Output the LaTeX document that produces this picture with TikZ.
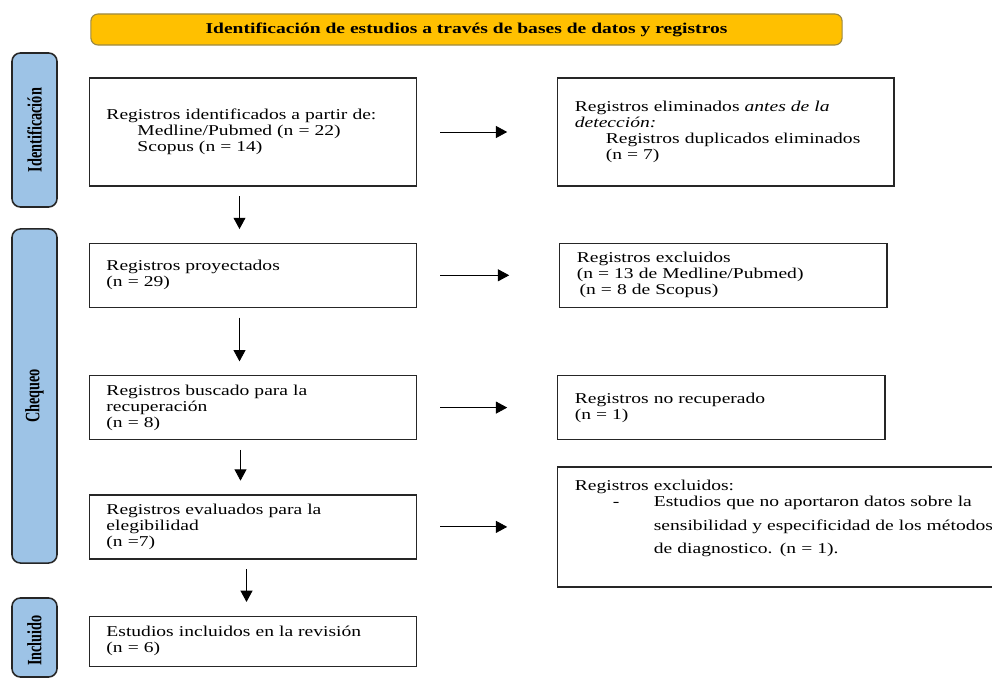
\documentclass[tikz,border=0pt]{standalone}
\usepackage{fontspec}
\setmainfont[FakeStretch=1.3]{Liberation Serif}
\newfontfamily\sidefont[FakeStretch=0.7]{Liberation Serif}
\usetikzlibrary{positioning,arrows.meta,calc}

\begin{document}
\begin{tikzpicture}[x=0.025cm,y=-0.025cm,
  every node/.style={font=\fontsize{10.7}{11.4}\selectfont},
  head/.style={rectangle,draw=yellow!45!black!80!orange,line width=0.8pt,rounded corners=5pt,fill={rgb,255:red,255;green,192;blue,0},minimum width=18.775cm,minimum height=0.775cm,font=\fontsize{10.7}{11.4}\selectfont\bfseries},
  side/.style={rectangle,draw=black!85,line width=1.1pt,rounded corners=6pt,fill={rgb,255:red,157;green,195;blue,230},minimum width=1.125cm},
  sidetxt/.style={rotate=90,font=\sidefont\fontsize{14.5}{14.5}\selectfont\bfseries},
  box/.style={rectangle,draw=black!85,line width=0.9pt,align=left,inner xsep=0.425cm,text width=7.325cm},
  arr/.style={-{Triangle[length=8pt,width=8.5pt]},line width=0.6pt},
  harr/.style={arr,shorten <=0.575cm,shorten >=1.25cm},
  varr/.style={arr,shorten <=0.24cm,shorten >=0.34cm}
]
\clip (0,0) rectangle (992,682);

% encabezado y fases
\node[head] (title) at (466.5,29.5) {Identificación de estudios a través de bases de datos y registros};
\node[side,minimum height=3.85cm] (fid) at (34.5,130) {};
\node[side,minimum height=8.35cm] (fchq) at (34.5,396) {};
\node[side,minimum height=1.975cm] (finc) at (34.5,637.5) {};
\node[sidetxt] at (fid) {Identificación};
\node[sidetxt] at (fchq) {Chequeo};
\node[sidetxt] at ($(finc)+(0,3)$) {Incluido};

% columna izquierda
\node[box,minimum height=2.7cm] (B1) at (253,132) {Registros identificados a partir de:\\
  \hspace*{0.775cm}Medline/Pubmed (n = 22)\\
  \hspace*{0.775cm}Scopus (n = 14)};
\node[box,minimum height=1.6cm,below=1.4cm of B1] (B2) {Registros proyectados\\(n = 29)};
\node[box,minimum height=1.6cm,below=1.675cm of B2] (B3) {Registros buscado para la\\recuperación\\(n = 8)};
\node[box,minimum height=1.6cm,below=1.35cm of B3] (B4) {Registros evaluados para la\\elegibilidad\\(n =7)};
\node[box,minimum height=1.25cm,below=1.4cm of B4] (B5) {Estudios incluidos en la revisión\\(n = 6)};

% columna derecha
\node[box,minimum height=2.7cm,text width=7.55cm,right=3.5cm of B1] (R1) {Registros eliminados \textit{antes de la}\\
  \textit{detección:}\\
  \hspace*{0.775cm}Registros duplicados eliminados\\
  \hspace*{0.775cm}(n = 7)};
\node[box,minimum height=1.6cm,right=3.55cm of B2] (R2) {Registros excluidos\\(n = 13 de Medline/Pubmed)\\\hspace*{2pt}(n = 8 de Scopus)};
\node[box,minimum height=1.6cm,right=3.5cm of B3] (R3) {Registros no recuperado\\(n = 1)};
\node[box,minimum height=3cm,text width=10.525cm,right=3.5cm of B4] (R4) {Registros excluidos:\\
  \makebox[1.975cm][l]{\hspace*{0.95cm}-}\makebox[8.45cm][s]{Estudios que no aportaron datos sobre la}\\[5pt]
  \hspace*{1.975cm}\makebox[8.45cm][s]{sensibilidad y especificidad de los métodos}\\[5pt]
  \hspace*{1.975cm}de diagnostico. (n = 1).\\[3pt]\mbox{}};

% flechas
\draw[varr] ($(B1.south)+(-13.5,0)$) -- ($(B2.north)+(-13.5,0)$);
\draw[varr] ($(B2.south)+(-13.5,0)$) -- ($(B3.north)+(-13.5,0)$);
\draw[varr] ($(B3.south)+(-12.5,0)$) -- ($(B4.north)+(-12.5,0)$);
\draw[varr] ($(B4.south)+(-6.5,0)$) -- ($(B5.north)+(-6.5,0)$);
\draw[harr] (B1) -- (R1);
\draw[harr] (B2.east) -- (B2.east -| R2.west);
\draw[harr] (B3.east) -- (B3.east -| R3.west);
\draw[harr] (B4.east) -- (B4.east -| R4.west);
\end{tikzpicture}
\end{document}
